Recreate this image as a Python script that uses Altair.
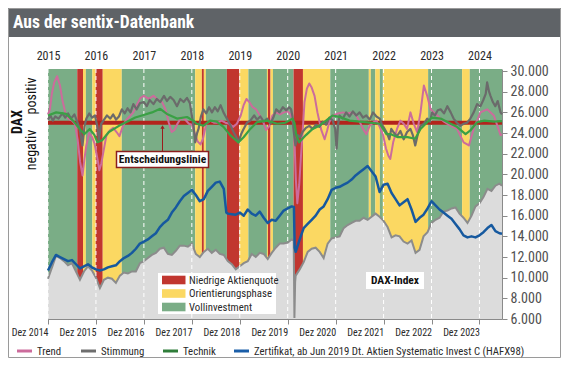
import altair as alt
import pandas as pd

# ------------------------------------------------------------------ data
YEARS = list(range(2015, 2025))
X_END = 2024.47
DECISION = 25000

PHASES = ["Niedrige Aktienquote", "Orientierungsphase", "Vollinvestment"]
PHASE_COLORS = ["#c1362f", "#fbd862", "#7aad86"]

BAND_START = [2015.00, 2015.61, 2015.73, 2015.79, 2015.925, 2015.996, 2016.142, 2016.539,
              2018.07, 2018.21, 2018.251, 2018.293, 2018.731, 2018.995, 2019.18, 2019.567,
              2019.588, 2019.642, 2019.692, 2020.122, 2020.318, 2020.888, 2021.692, 2021.734,
              2021.828, 2021.922, 2021.985, 2022.929, 2023.638, 2023.797]
BAND_PHASE = ["Vollinvestment", "Niedrige Aktienquote", "Orientierungsphase", "Vollinvestment",
              "Orientierungsphase", "Niedrige Aktienquote", "Orientierungsphase", "Vollinvestment",
              "Orientierungsphase", "Niedrige Aktienquote", "Orientierungsphase", "Vollinvestment",
              "Niedrige Aktienquote", "Orientierungsphase", "Vollinvestment", "Orientierungsphase",
              "Niedrige Aktienquote", "Orientierungsphase", "Vollinvestment", "Niedrige Aktienquote",
              "Orientierungsphase", "Vollinvestment", "Orientierungsphase", "Vollinvestment",
              "Orientierungsphase", "Vollinvestment", "Orientierungsphase", "Vollinvestment",
              "Orientierungsphase", "Vollinvestment"]

# DAX index, month-end values Jan 2015 .. Jun 2024
DAX_MONTHLY = [
    9900, 11000, 12100, 11900, 11600, 11200, 11400, 10600, 9800, 10600, 11100, 10700,
    10000, 9000, 9800, 10000, 9900, 9500, 10200, 10500, 10400, 10600, 10600, 11400,
    11600, 11900, 12200, 12400, 12800, 12900, 12300, 12200, 12600, 13100, 13100, 13000,
    13300, 12300, 12000, 12500, 12800, 12400, 12700, 12300, 12200, 11600, 11300, 10800,
    11100, 11400, 11600, 12300, 12000, 12400, 12300, 11800, 12400, 12900, 13300, 13300,
    13400, 13700, 10200, 10800, 11500, 12500, 12800, 12900, 12500, 11900, 13300, 13800,
    13900, 14000, 14800, 15100, 15300, 15500, 15500, 15800, 15600, 15900, 16200, 15900,
    15500, 14900, 13900, 14100, 14000, 13500, 13300, 13600, 12400, 12700, 14000, 14400,
    15300, 15600, 15800, 16400, 16500, 16700, 16800, 16200, 15800, 15300, 16000, 16900,
    17200, 17800, 18600, 18400, 18900, 19100]
DAX_EXTRA_T = [2020.125, 2020.14, 2020.155, 2024.47]
DAX_EXTRA_V = [13600, 6100, 9600, 18900]

CERT_MONTHLY = [
    10700, 11500, 12200, 12000, 11800, 11600, 11700, 11300, 10900, 11100, 11300, 11000,
    10800, 10700, 10800, 11000, 11100, 11200, 11600, 11900, 12100, 12400, 12800, 13300,
    13500, 13700, 14000, 14300, 14900, 15300, 15600, 16300, 16800, 17400, 17900, 18200,
    18500, 18000, 17400, 17600, 18400, 18800, 19200, 19300, 18600, 16200, 16150, 16100,
    16300, 16000, 16600, 16200, 16000, 16400, 15800, 15300, 15600, 15500, 16000, 16500,
    16700, 16900, 12500, 13700, 14800, 15200, 15600, 16000, 16600, 16900, 17600, 18500,
    18700, 18800, 19000, 19200, 19500, 19900, 20200, 20500, 20800, 20300, 19800, 18300,
    19000, 19100, 18200, 17600, 17000, 17300, 17600, 16600, 15400, 15800, 16100, 16700,
    17400, 17000, 16600, 16300, 16000, 15700, 15200, 14700, 14100, 13900, 14000, 13900,
    14100, 14400, 14800, 15100, 14500, 14300]
CERT_EXTRA_T = [2018.72, 2020.13, 2020.145, 2024.47]
CERT_EXTRA_V = [16300, 16850, 12900, 14250]

TREND_T = [2015.00, 2015.04, 2015.08, 2015.13, 2015.19, 2015.25, 2015.30, 2015.36, 2015.42, 2015.50,
           2015.56, 2015.62, 2015.67, 2015.72, 2015.76, 2015.80, 2015.86, 2015.92, 2015.97, 2016.04,
           2016.07, 2016.11, 2016.16, 2016.22, 2016.30, 2016.36, 2016.43, 2016.49, 2016.55, 2016.62,
           2016.70, 2016.78, 2016.86, 2016.93, 2017.00, 2017.10, 2017.20, 2017.30, 2017.38, 2017.45,
           2017.52, 2017.58, 2017.64, 2017.70, 2017.78, 2017.86, 2017.94, 2018.00, 2018.06, 2018.12,
           2018.18, 2018.23, 2018.30, 2018.38, 2018.46, 2018.54, 2018.62, 2018.70, 2018.78, 2018.86,
           2018.94, 2019.02, 2019.08, 2019.14, 2019.20, 2019.27, 2019.34, 2019.42, 2019.48, 2019.55,
           2019.62, 2019.68, 2019.76, 2019.84, 2019.92, 2020.00, 2020.06, 2020.11, 2020.14, 2020.17,
           2020.20, 2020.24, 2020.28, 2020.31, 2020.35, 2020.40, 2020.45, 2020.50, 2020.56, 2020.62,
           2020.70, 2020.77, 2020.82, 2020.87, 2020.95, 2021.05, 2021.15, 2021.25, 2021.35, 2021.43,
           2021.50, 2021.57, 2021.64, 2021.71, 2021.78, 2021.85, 2021.92, 2021.99, 2022.05, 2022.10,
           2022.14, 2022.20, 2022.28, 2022.35, 2022.42, 2022.49, 2022.56, 2022.63, 2022.70, 2022.77,
           2022.84, 2022.91, 2022.98, 2023.12, 2023.26, 2023.40, 2023.53, 2023.67, 2023.78, 2023.88,
           2024.02, 2024.16, 2024.30, 2024.44, 2024.47]
TREND_V = [25800, 26300, 27800, 28900, 29500, 28600, 27200, 26000, 25400, 25200,
           24900, 23300, 21200, 19900, 21500, 22800, 24000, 23600, 23000, 21300,
           20400, 21000, 22300, 23800, 24300, 24500, 24100, 23700, 24500, 25200,
           25600, 26000, 26800, 27400, 27600, 27300, 27600, 27200, 27000, 26300,
           25000, 24100, 24300, 24900, 25500, 25300, 24900, 24800, 24000, 23200,
           22900, 23400, 24900, 25200, 25000, 25000, 25200, 25000, 24900, 24600,
           24900, 25700, 26700, 27300, 27000, 26500, 26300, 25700, 25200, 24300,
           24700, 25700, 26000, 25800, 26000, 26100, 25800, 25000, 23500, 19500,
           17200, 19000, 22000, 24000, 27000, 28300, 28800, 28400, 27600, 26000,
           24300, 23400, 24200, 25100, 25700, 25900, 26000, 25900, 26000, 25700,
           25100, 24400, 23900, 24700, 25000, 25200, 24600, 23800, 22500, 21800,
           21500, 23100, 24400, 25200, 24900, 24400, 26000, 24900, 24100, 26000,
           28600, 27600, 26300, 25700, 25100, 24700, 24400, 23100, 22800, 24400,
           26000, 26300, 25700, 23800, 23900]

STIM_T = [2015.00, 2015.05, 2015.10, 2015.15, 2015.22, 2015.30, 2015.36, 2015.42, 2015.48, 2015.55,
          2015.61, 2015.66, 2015.72, 2015.76, 2015.80, 2015.86, 2015.92, 2015.98, 2016.03, 2016.06,
          2016.11, 2016.17, 2016.23, 2016.30, 2016.36, 2016.42, 2016.48, 2016.54, 2016.60, 2016.66,
          2016.72, 2016.78, 2016.85, 2016.92, 2017.00, 2017.06, 2017.12, 2017.20, 2017.27, 2017.34,
          2017.42, 2017.48, 2017.55, 2017.62, 2017.69, 2017.76, 2017.83, 2017.90, 2017.96, 2018.00,
          2018.04, 2018.07, 2018.11, 2018.14, 2018.19, 2018.24, 2018.30, 2018.36, 2018.42, 2018.48,
          2018.54, 2018.60, 2018.66, 2018.73, 2018.80, 2018.87, 2018.93, 2018.97, 2019.03, 2019.08,
          2019.15, 2019.22, 2019.30, 2019.36, 2019.43, 2019.50, 2019.57, 2019.64, 2019.70, 2019.76,
          2019.83, 2019.90, 2019.97, 2020.03, 2020.07, 2020.10, 2020.12, 2020.16, 2020.21, 2020.26,
          2020.31, 2020.38, 2020.45, 2020.52, 2020.59, 2020.66, 2020.73, 2020.80, 2020.87, 2020.94,
          2020.99, 2021.02, 2021.05, 2021.08, 2021.15, 2021.22, 2021.29, 2021.36, 2021.43, 2021.50,
          2021.57, 2021.64, 2021.71, 2021.78, 2021.85, 2021.92, 2021.97, 2022.02, 2022.08, 2022.12,
          2022.16, 2022.22, 2022.28, 2022.35, 2022.42, 2022.49, 2022.56, 2022.61, 2022.66, 2022.72,
          2022.77, 2022.84, 2022.91, 2022.97, 2023.01, 2023.07, 2023.13, 2023.19, 2023.26, 2023.33,
          2023.40, 2023.46, 2023.53, 2023.60, 2023.67, 2023.74, 2023.81, 2023.88, 2023.95, 2024.02,
          2024.08, 2024.13, 2024.16, 2024.20, 2024.23, 2024.28, 2024.33, 2024.38, 2024.44, 2024.47]
STIM_V = [25300, 25700, 25200, 25600, 25400, 25900, 25500, 25900, 25400, 25800,
          25100, 24400, 22800, 24600, 25400, 25900, 25500, 25700, 24600, 23400,
          24900, 25300, 25700, 25400, 25800, 25300, 25600, 26300, 25900, 26400,
          26000, 26800, 26300, 26900, 27000, 26600, 27200, 26800, 27300, 27000,
          27600, 27100, 27500, 27200, 26600, 27300, 27000, 27400, 26900, 25700,
          24500, 23100, 24000, 24400, 25600, 26300, 25900, 26500, 26000, 26500,
          26100, 26700, 26000, 25400, 24800, 24100, 23600, 23100, 23900, 24400,
          25000, 25200, 25700, 25300, 25600, 25100, 25400, 24900, 25500, 26300,
          26000, 26500, 26200, 26500, 26300, 25600, 24400, 22800, 23800, 23600,
          24100, 24500, 24700, 24400, 24800, 24600, 25100, 24800, 25500, 25200,
          24400, 22500, 24800, 25700, 25400, 26000, 25600, 26100, 25700, 26000,
          25500, 25700, 25300, 26000, 25600, 25400, 24800, 24400, 23900, 23400,
          24400, 24000, 23700, 24200, 23400, 24100, 24400, 23800, 22800, 24000,
          24700, 24900, 25400, 25100, 26000, 25700, 26200, 26300, 25900, 26600,
          26000, 25400, 25000, 24700, 24900, 25000, 25400, 26000, 26800, 26600,
          27200, 27800, 28900, 28000, 27600, 27000, 26600, 27100, 26000, 25800]

TECH_T = [2015.00, 2015.17, 2015.38, 2015.52, 2015.66, 2015.76, 2015.87, 2015.97, 2016.03, 2016.13,
          2016.27, 2016.48, 2016.69, 2016.82, 2016.96, 2017.17, 2017.34, 2017.48, 2017.69, 2017.90,
          2018.03, 2018.10, 2018.24, 2018.38, 2018.52, 2018.66, 2018.80, 2018.97, 2019.08, 2019.22,
          2019.36, 2019.57, 2019.78, 2019.95, 2020.10, 2020.14, 2020.18, 2020.24, 2020.38, 2020.52,
          2020.66, 2020.80, 2020.94, 2021.08, 2021.29, 2021.50, 2021.71, 2021.92, 2022.06, 2022.14,
          2022.30, 2022.50, 2022.66, 2022.77, 2022.91, 2023.01, 2023.19, 2023.40, 2023.53, 2023.71,
          2023.81, 2023.95, 2024.10, 2024.30, 2024.47]
TECH_V = [25700, 26000, 25850, 25200, 24400, 23900, 24400, 23800, 23100, 23300,
          24100, 24700, 25200, 25500, 25700, 26000, 26350, 25850, 25400, 25550,
          25200, 24900, 24700, 25200, 25100, 24600, 23800, 23100, 23600, 24400,
          25050, 25200, 24900, 25000, 25400, 25000, 23800, 23100, 23800, 24400,
          24700, 25200, 25700, 25550, 25200, 25100, 25000, 24900, 23900, 23900,
          23600, 23600, 23450, 24400, 25050, 25500, 25400, 24900, 24600, 23900,
          24250, 25050, 25200, 25100, 25150]

SERIES_NAMES = ["Trend", "Stimmung", "Technik",
                "Zertifikat, ab Jun 2019 Dt. Aktien Systematic Invest C (HAFX98)"]
SERIES_COLORS = ["#cc6c9c", "#6e6e6e", "#2f7d3a", "#1b5ea8"]
LINE_COLORS = {"trend": "#cc6c9c", "stim": "#6b6b6b", "tech": "#3aa045", "cert": "#16599f"}

# ------------------------------------------------------------------ tables
bands = pd.DataFrame({"start": BAND_START,
                      "end": BAND_START[1:] + [X_END],
                      "phase": BAND_PHASE})


def monthly(vals, et, ev):
    t = [2015 + i / 12 for i in range(len(vals))] + et
    df = pd.DataFrame({"t": t, "v": vals + ev}).sort_values("t")
    return df


dax = monthly(DAX_MONTHLY, DAX_EXTRA_T, DAX_EXTRA_V)
cert = monthly(CERT_MONTHLY, CERT_EXTRA_T, CERT_EXTRA_V)
trend = pd.DataFrame({"t": TREND_T, "v": TREND_V})
stim = pd.DataFrame({"t": STIM_T, "v": STIM_V})
tech = pd.DataFrame({"t": TECH_T, "v": TECH_V})
years = pd.DataFrame({"year": YEARS})
one = pd.DataFrame({"a": [0]})

# ------------------------------------------------------------------ style
FONT = "Roboto Condensed, Noto Sans Condensed, Roboto, sans-serif"
W, H = 454, 250
GRAY_AX = "#8a8a8a"
TXT = "#2a2a2a"

xs = alt.Scale(domain=[2015, X_END], nice=False, zero=False)
ys = alt.Scale(domain=[6000, 30200], nice=False, zero=False)

bottom_axis = alt.Axis(orient="bottom", values=YEARS, labelExpr="'Dez ' + (datum.value - 1)",
                       labelAlign="right", labelFont=FONT, labelFontSize=10, labelColor=TXT,
                       domainColor=GRAY_AX, tickColor=GRAY_AX, tickSize=5, labelPadding=3,
                       grid=False, title=None, labelOverlap=False, labelFlush=False)
top_axis = alt.Axis(orient="top", values=YEARS, format="d", labelFont=FONT, labelFontSize=12,
                    labelColor=TXT, domain=False, ticks=False, labelPadding=7, grid=False,
                    title=None, labelOverlap=False, labelFlush=False)
right_axis = alt.Axis(orient="right", values=list(range(6000, 30001, 2000)),
                      labelExpr="replace(format(datum.value, ','), ',', '.')",
                      labelFont=FONT, labelFontSize=14, labelColor="#505050",
                      domainColor=GRAY_AX, tickColor=GRAY_AX, tickSize=5, labelPadding=3,
                      grid=False, title=None, labelOverlap=False, labelFlush=False)
left_axis = alt.Axis(orient="left", labels=False, ticks=False, domainColor=GRAY_AX,
                     grid=False, title=None)


def xq(field, axis=None):
    return alt.X(field, type="quantitative", scale=xs, axis=axis)


def yq(field, axis=None):
    return alt.Y(field, type="quantitative", scale=ys, axis=axis)


layers = []

# regime bands
layers.append(alt.Chart(bands).mark_rect().encode(
    x=xq("start", bottom_axis), x2="end:Q", y=alt.value(0), y2=alt.value(H),
    color=alt.Color("phase:N", scale=alt.Scale(domain=PHASES, range=PHASE_COLORS), legend=None)))

# DAX area
layers.append(alt.Chart(dax).mark_area(color="#dcdcdc", opacity=1).encode(
    x=xq("t"), y=yq("v", right_axis), y2=alt.datum(6000)))
layers.append(alt.Chart(dax).mark_line(color="#8c8c8c", strokeWidth=2).encode(
    x=xq("t"), y=yq("v")))

# year rules
layers.append(alt.Chart(years).mark_rule(color="white", strokeDash=[4, 3], strokeWidth=1).encode(
    x=xq("year", top_axis)))

# decision line
layers.append(alt.Chart(pd.DataFrame({"v": [DECISION]})).mark_rule(
    color="#b3231c", strokeWidth=4).encode(y=yq("v", left_axis)))

for df, key, sw in [(trend, "trend", 2), (stim, "stim", 2.2), (tech, "tech", 2.2), (cert, "cert", 2.5)]:
    layers.append(alt.Chart(df).mark_line(color=LINE_COLORS[key], strokeWidth=sw,
                                          strokeJoin="round").encode(x=xq("t"), y=yq("v")))


# ------------------------------------------------------------------ annotations
def rect(x1, x2, y1, y2, **kw):
    return alt.Chart(one).mark_rect(**kw).encode(
        x=alt.value(x1), x2=alt.value(x2), y=alt.value(y1), y2=alt.value(y2))


def text(x, y, s, **kw):
    return alt.Chart(one).mark_text(font=FONT, **kw).encode(
        x=alt.value(x), y=alt.value(y), text=alt.value(s))


def hline(x1, x2, y, color, sw):
    return alt.Chart(one).mark_rule(color=color, strokeWidth=sw).encode(
        x=alt.value(x1), x2=alt.value(x2), y=alt.value(y))


# callout
layers.append(alt.Chart(one).mark_rule(color="#9b1c1c", strokeWidth=1).encode(
    x=alt.value(114.5), y=alt.value(57), y2=alt.value(83)))
layers.append(alt.Chart(one).mark_point(shape="triangle-up", filled=True, color="#9b1c1c",
                                        size=18, opacity=1).encode(
    x=alt.value(114.5), y=alt.value(58)))
layers.append(rect(68.5, 160.5, 82.5, 98.5, fill="white", stroke="#8b1e1e", strokeWidth=1.5))
layers.append(text(114.5, 91, "Entscheidungslinie", fontSize=11.5, fontWeight="bold",
                   color="#111", align="center", baseline="middle"))

# DAX-Index label
layers.append(rect(318, 376, 203, 220, fill="white"))
layers.append(text(347, 212, "DAX-Index", fontSize=11.5, fontWeight="bold",
                   color="#111", align="center", baseline="middle"))

# phase legend
layers.append(rect(110, 228, 204, 245, fill="white"))
for i, (name, col) in enumerate(zip(PHASES, PHASE_COLORS)):
    cy = 211 + i * 13.5
    layers.append(rect(114, 137.5, cy - 4.3, cy + 4.3, fill=col))
    layers.append(text(141, cy + 0.5, name, fontSize=10.8, color=TXT, align="left", baseline="middle"))

# left labels
layers.append(text(-30, 53, "DAX", fontSize=14, fontWeight="bold", color="#111",
                   angle=270, align="center", baseline="middle"))
layers.append(text(-16, 27, "positiv", fontSize=14, color="#111",
                   angle=270, align="center", baseline="middle"))
layers.append(text(-16, 81, "negativ", fontSize=14, color="#111",
                   angle=270, align="center", baseline="middle"))

# header
layers.append(rect(-40, 514, -61, -32, fill="#5f6367"))
layers.append(text(-35, -46, "Aus der sentix-Datenbank", fontSize=17.5, fontWeight="bold",
                   color="white", align="left", baseline="middle"))

# outer frame
layers.append(rect(-39.5, 512.5, -60.5, 288.5, fill="transparent", stroke="#9a9a9a", strokeWidth=1))

# bottom legend
LEG_X = [-31, 33, 115, 186]
for lx, name, col in zip(LEG_X, SERIES_NAMES, SERIES_COLORS):
    layers.append(hline(lx, lx + 15, 282, col, 3))
    layers.append(text(lx + 20, 282.5, name, fontSize=10.8, color=TXT, align="left", baseline="middle"))

chart = alt.layer(*layers).resolve_axis(x="independent", y="independent").properties(
    width=W, height=H,
    padding={"left": 40, "top": 61, "right": 59, "bottom": 39},
).configure(autosize=alt.AutoSizeParams(type="none")).configure_view(stroke=None)

chart.save("out.html", embed_options={"renderer": "svg", "actions": False})
